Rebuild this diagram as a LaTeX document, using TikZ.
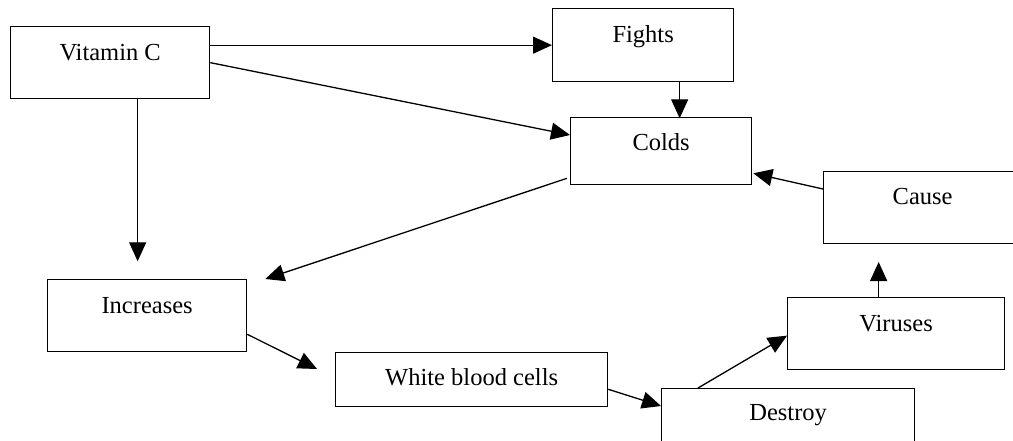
\documentclass[tikz,border=0pt]{standalone}
\usepackage{fontspec}
\setmainfont{Liberation Serif}
\usetikzlibrary{arrows.meta,calc}
\begin{document}
\begin{tikzpicture}[x=1pt,y=-1pt,
  boxnode/.style={draw=black,line width=1.3pt,rectangle,inner sep=0pt,anchor=north west,fill=white},
  lbl/.style={anchor=base,inner sep=0pt,font=\fontsize{24.5}{29}\selectfont},
  conn/.style={draw=black,line width=1.3pt,-{Triangle[length=19pt,width=17pt]}}]
\useasboundingbox (0,0) rectangle (1013,440);
\clip (0,0) rectangle (1013,440);
\fill[white] (0,0) rectangle (1013,440);
% boxes
\node[boxnode,minimum width=199pt,minimum height=72pt] (vitc) at (10,26) {};
\node[boxnode,minimum width=181pt,minimum height=73pt] (fights) at (552,8) {};
\node[boxnode,minimum width=181pt,minimum height=67pt] (colds) at (570,117) {};
\node[boxnode,minimum width=198pt,minimum height=72pt] (cause) at (823,171) {};
\node[boxnode,minimum width=199pt,minimum height=72pt] (incr) at (47,279) {};
\node[boxnode,minimum width=272pt,minimum height=54pt] (wbc) at (335,352) {};
\node[boxnode,minimum width=217pt,minimum height=72pt] (viruses) at (787,297) {};
\node[boxnode,minimum width=253pt,minimum height=72pt] (destroy) at (661,388) {};
% labels
\node[lbl] (tvitc) at ($(vitc.north)+(0,34)$) {Vitamin C};
\node[lbl] (tfights) at ($(fights.north)+(0,34)$) {Fights};
\node[lbl] (tcolds) at ($(colds.north)+(0,33)$) {Colds};
\node[lbl] (tcause) at ($(cause.north)+(0,33)$) {Cause};
\node[lbl] (tincr) at ($(incr.north)+(0,34)$) {Increases};
\node[lbl] (twbc) at ($(wbc.north)+(0,33)$) {White blood cells};
\node[lbl] (tviruses) at ($(viruses.north)+(0,34)$) {Viruses};
\node[lbl] (tdestroy) at ($(destroy.north)+(0,32)$) {Destroy};
% free ends
\coordinate (vitcEnd) at ($(vitc.south)+(27.5,162)$);
\coordinate (incrEnd) at ($(incr.north east)+(18,0)$);
\coordinate (causeEnd) at ($(viruses.north)+(-17.5,-35)$);
\coordinate (wbcEnd) at ($(wbc.north west)+(-18,17)$);
% connectors
\draw[conn] (vitc.north east |- fights.west) -- (fights.west);
\draw[conn] (vitc.east) -- ($(colds.north west)+(0,18)$);
\draw[conn] ($(vitc.south)+(27.5,0)$) -- (vitcEnd);
\draw[conn] ($(fights.south)+(36.5,0)$) -- ($(fights.south)+(36.5,36)$);
\draw[conn] ($(colds.south west)+(-3,-7)$) -- (incrEnd);
\draw[conn] ($(cause.north west)+(0,18)$) -- ($(colds.south east)+(1,-12)$);
\draw[conn] ($(viruses.north)+(-17.5,0)$) -- (causeEnd);
\draw[conn] ($(incr.south east)+(0,-18)$) -- (wbcEnd);
\draw[conn] ($(wbc.south east)+(0,-18)$) -- ($(destroy.north west)+(0,18)$);
\draw[conn] ($(destroy.north west)+(37,0)$) -- ($(viruses.west)+(0,2)$);
\end{tikzpicture}
\end{document}
